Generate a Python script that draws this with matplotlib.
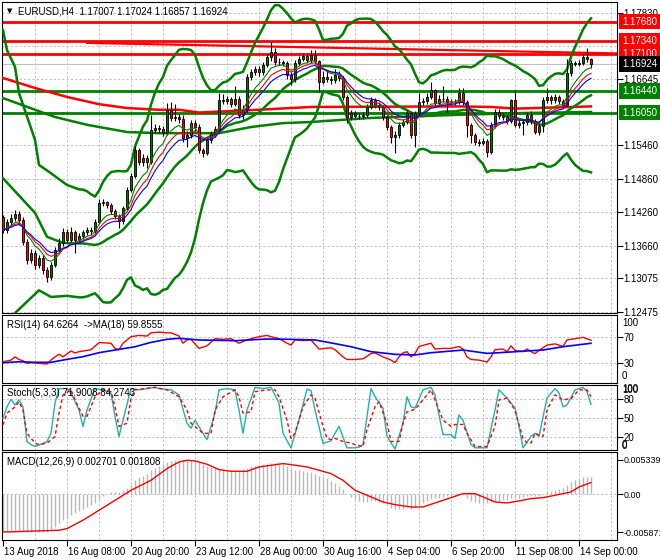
import matplotlib
matplotlib.use("Agg")
import matplotlib.pyplot as plt
import matplotlib.transforms as mtransforms
import pandas as pd

W, H = 660, 560

plt.rcParams['font.family'] = ['Liberation Sans', 'DejaVu Sans']
plt.rcParams['font.size'] = 7

# ---------------- texts
symbol_title = "EURUSD,H4  1.17007 1.17024 1.16857 1.16924"
rsi_title = "RSI(14) 64.6264  ->MA(18) 59.8555"
stoch_title = "Stoch(5,3,3) 71.9008 84.2743"
macd_title = "MACD(12,26,9) 0.002701 0.001808"

date_labels = ["13 Aug 2018", "16 Aug 08:00", "20 Aug 20:00", "23 Aug 12:00",
               "28 Aug 00:00", "30 Aug 16:00", "4 Sep 04:00", "6 Sep 20:00",
               "11 Sep 08:00", "14 Sep 00:00"]
date_label_bars = [0, 16, 32, 48, 64, 80, 96, 112, 128, 144]

# ---------------- H4 candles (open of a bar = close of the bar before)
first_open = 1.1417
closes = [
    1.1394, 1.1409, 1.1416, 1.1423, 1.1412, 1.1373, 1.1340, 1.1353, 1.1331, 1.1344,
    1.1322, 1.1310, 1.1331, 1.1358, 1.1371, 1.1391, 1.1376, 1.1391, 1.1376, 1.1383,
    1.1391, 1.1394, 1.1392, 1.1409, 1.1443, 1.1444, 1.1439, 1.1428, 1.1419, 1.1410,
    1.1434, 1.1466, 1.1491, 1.1538, 1.1516, 1.1523, 1.1516, 1.1574, 1.1577, 1.1575,
    1.1568, 1.1610, 1.1595, 1.1597, 1.1593, 1.1559, 1.1565, 1.1586, 1.1579, 1.1538,
    1.1532, 1.1556, 1.1566, 1.1575, 1.1627, 1.1626, 1.1629, 1.1620, 1.1629, 1.1601,
    1.1610, 1.1669, 1.1678, 1.1683, 1.1678, 1.1690, 1.1705, 1.1714, 1.1696, 1.1696,
    1.1694, 1.1672, 1.1665, 1.1694, 1.1701, 1.1706, 1.1699, 1.1708, 1.1697, 1.1660,
    1.1669, 1.1665, 1.1663, 1.1672, 1.1667, 1.1633, 1.1597, 1.1604, 1.1599, 1.1599,
    1.1601, 1.1615, 1.1627, 1.1619, 1.1615, 1.1597, 1.1579, 1.1561, 1.1565, 1.1583,
    1.1588, 1.1604, 1.1565, 1.1604, 1.1624, 1.1626, 1.1633, 1.1645, 1.1622, 1.1629,
    1.1629, 1.1624, 1.1624, 1.1624, 1.1640, 1.1624, 1.1583, 1.1565, 1.1552, 1.1550,
    1.1554, 1.1534, 1.1583, 1.1606, 1.1599, 1.1597, 1.1590, 1.1627, 1.1583, 1.1586,
    1.1588, 1.1601, 1.1590, 1.1570, 1.1581, 1.1627, 1.1633, 1.1627, 1.1633, 1.1626,
    1.1619, 1.1676, 1.1694, 1.1692, 1.1694, 1.1705, 1.17007, 1.16924]
highs = [
    1.1421, 1.1414, 1.1422, 1.1430, 1.1428, 1.1418, 1.1378, 1.1360, 1.1358, 1.1350,
    1.1349, 1.1328, 1.1336, 1.1364, 1.1380, 1.1398, 1.1396, 1.1400, 1.1394, 1.1388,
    1.1395, 1.1399, 1.1400, 1.1414, 1.1450, 1.1449, 1.1447, 1.1442, 1.1431, 1.1422,
    1.1438, 1.1471, 1.1497, 1.1545, 1.1541, 1.1530, 1.1529, 1.1601, 1.1584, 1.1583,
    1.1580, 1.1622, 1.1624, 1.1620, 1.1603, 1.1600, 1.1572, 1.1592, 1.1592, 1.1584,
    1.1542, 1.1561, 1.1571, 1.1581, 1.1640, 1.1639, 1.1634, 1.1633, 1.1653, 1.1634,
    1.1618, 1.1674, 1.1684, 1.1689, 1.1688, 1.1696, 1.1712, 1.1732, 1.1720, 1.1702,
    1.1700, 1.1698, 1.1677, 1.1699, 1.1707, 1.1712, 1.1711, 1.1717, 1.1717, 1.1700,
    1.1680, 1.1680, 1.1671, 1.1683, 1.1680, 1.1670, 1.1636, 1.1609, 1.1607, 1.1604,
    1.1606, 1.1620, 1.1632, 1.1631, 1.1624, 1.1618, 1.1601, 1.1583, 1.1571, 1.1588,
    1.1593, 1.1610, 1.1608, 1.1608, 1.1640, 1.1631, 1.1640, 1.1660, 1.1648, 1.1636,
    1.1653, 1.1634, 1.1630, 1.1629, 1.1649, 1.1649, 1.1628, 1.1587, 1.1569, 1.1557,
    1.1559, 1.1558, 1.1588, 1.1612, 1.1611, 1.1604, 1.1601, 1.1630, 1.1645, 1.1592,
    1.1593, 1.1606, 1.1607, 1.1594, 1.1586, 1.1632, 1.1649, 1.1637, 1.1638, 1.1637,
    1.1630, 1.1701, 1.1700, 1.1698, 1.1699, 1.1710, 1.1721, 1.17024]
lows = [
    1.1388, 1.1389, 1.1404, 1.1411, 1.1405, 1.1368, 1.1333, 1.1335, 1.1325, 1.1326,
    1.1315, 1.1301, 1.1305, 1.1327, 1.1352, 1.1366, 1.1370, 1.1372, 1.1352, 1.1371,
    1.1378, 1.1386, 1.1385, 1.1388, 1.1405, 1.1437, 1.1434, 1.1423, 1.1414, 1.1398,
    1.1405, 1.1430, 1.1462, 1.1487, 1.1510, 1.1509, 1.1505, 1.1512, 1.1568, 1.1569,
    1.1562, 1.1565, 1.1590, 1.1590, 1.1587, 1.1552, 1.1543, 1.1560, 1.1572, 1.1533,
    1.1525, 1.1528, 1.1550, 1.1561, 1.1572, 1.1620, 1.1620, 1.1615, 1.1616, 1.1596,
    1.1594, 1.1606, 1.1664, 1.1672, 1.1671, 1.1673, 1.1686, 1.1698, 1.1690, 1.1690,
    1.1688, 1.1666, 1.1654, 1.1660, 1.1690, 1.1697, 1.1694, 1.1694, 1.1692, 1.1642,
    1.1656, 1.1660, 1.1657, 1.1658, 1.1662, 1.1628, 1.1586, 1.1592, 1.1595, 1.1594,
    1.1594, 1.1597, 1.1612, 1.1614, 1.1610, 1.1592, 1.1573, 1.1550, 1.1532, 1.1560,
    1.1579, 1.1584, 1.1560, 1.1543, 1.1600, 1.1619, 1.1621, 1.1629, 1.1617, 1.1618,
    1.1624, 1.1604, 1.1619, 1.1618, 1.1620, 1.1619, 1.1561, 1.1550, 1.1547, 1.1545,
    1.1546, 1.1525, 1.1530, 1.1578, 1.1594, 1.1592, 1.1585, 1.1586, 1.1579, 1.1578,
    1.1565, 1.1583, 1.1585, 1.1566, 1.1565, 1.1570, 1.1622, 1.1621, 1.1622, 1.1620,
    1.1614, 1.1615, 1.1670, 1.1688, 1.1688, 1.1690, 1.1696, 1.16857]

# ---------------- horizontal / trend levels
red_levels = [1.1768, 1.1734, 1.1710]
green_levels = [1.1644, 1.1605]
bid_price = 1.16924
red_slope_bars = [21, 154]
red_slope_prices = [1.1730, 1.1711]

# Bollinger(20,3) before its window is full
bb_upper_early_bars = [0, 1, 3, 4, 6, 8, 9, 12, 16]
bb_upper_early = [1.1753, 1.1717, 1.1687, 1.1640, 1.1598, 1.1556, 1.1511, 1.1496, 1.1475]
bb_mid_early_bars = [0, 8, 11, 15]
bb_mid_early = [1.1487, 1.1425, 1.1382, 1.1371]
bb_lower_early_bars = [0, 3, 9, 12, 16]
bb_lower_early = [1.1221, 1.1245, 1.1286, 1.1274, 1.1276]

# long moving averages
slow_red_bars = [0, 8, 16, 24, 31, 39, 44, 49, 64, 77, 114, 122, 128, 147]
slow_red = [1.1667, 1.1649, 1.1633, 1.1620, 1.1613, 1.1610, 1.1610, 1.1605,
            1.1610, 1.1615, 1.1616, 1.1615, 1.1612, 1.1616]
slow_green_bars = [0, 8, 13, 21, 31, 39, 54, 62, 70, 77, 91, 114, 129, 147]
slow_green = [1.1631, 1.1610, 1.1597, 1.1583, 1.1570, 1.1568, 1.1568, 1.1579,
              1.1586, 1.1588, 1.1595, 1.1601, 1.1604, 1.1606]

# ---------------- RSI(14) and its MA(18)
rsi_bars = [0, 2, 3, 4, 5, 6, 7, 9, 11, 12, 13, 14, 15, 17, 18, 19, 21, 22, 24, 27,
            28, 29, 30, 32, 34, 36, 37, 39, 41, 42, 44, 45, 46, 47, 49, 51, 53, 55, 57, 59,
            61, 62, 64, 66, 67, 69, 71, 72, 73, 75, 77, 79, 82, 83, 85, 86, 88, 90, 92, 93,
            95, 97, 98, 99, 100, 101, 102, 103, 104, 107, 108, 110, 112, 114, 115, 116, 117,
            119, 121, 122, 123, 125, 126, 127, 128, 130, 131, 132, 133, 134, 136, 138, 140,
            141, 143, 145, 147]
rsi_vals = [31.5, 34, 39, 35, 33, 29, 30, 29, 28, 34, 39, 43, 39, 48, 45, 47, 49, 50, 61, 60,
            52, 50, 60, 70, 72, 71, 76, 77, 76, 76, 71, 60, 65, 66, 52, 56, 67, 66, 67, 60,
            65, 67, 70, 72, 70, 67, 60, 57, 65, 64, 65, 51, 53, 50, 39, 35, 35, 36, 44, 45,
            39, 34, 30, 39, 45, 47, 39, 44, 55, 60, 51, 52, 52, 55, 51, 39, 35,
            34, 31, 39, 50, 51, 47, 56, 49, 47, 51, 47, 44, 49, 57, 59, 55,
            65, 67, 69, 64.6]
rsi_ma_bars = [0, 4, 8, 12, 16, 20, 24, 28, 33, 37, 41, 44, 49, 58, 66, 72, 78, 82,
               87, 92, 98, 103, 107, 115, 121, 123, 132, 135, 140, 147]
rsi_ma_vals = [30.0, 31.5, 30.6, 30.6, 35.2, 39.3, 45.4, 49.5, 54.6, 61.3, 66, 67.5, 65,
               63.9, 66.5, 66, 65, 60.5, 54.6, 47, 42.9, 41.9, 45.4, 49.5, 44.4, 45,
               48.5, 49.5, 54.6, 59.9]

# ---------------- Stochastic(5,3,3)
stoch_bars = [0, 1, 2, 3, 4, 5, 6, 7, 8, 10, 11, 12, 13, 14, 16, 17, 19, 20, 21, 23,
              25, 27, 28, 29, 30, 32, 34, 38, 39, 42, 44, 46, 47, 48, 50, 51, 53, 54, 56, 58,
              59, 60, 61, 63, 65, 67, 69, 70, 72, 74, 76, 77, 78, 80, 82, 83, 84, 86, 88, 89,
              90, 92, 93, 95, 96, 98, 100, 101, 102, 103, 105, 107, 108, 110, 112, 113, 114,
              115, 117, 118, 121, 123, 124, 126, 128, 129, 130, 132, 133, 134, 136, 138, 139,
              140, 141, 143, 145, 146, 147]
stoch_main = [50, 68, 80, 71, 79, 68, 13, 8, 5, 10, 13, 26, 74, 97, 97, 90, 63, 37, 63, 97,
              95, 90, 53, 21, 47, 97, 95, 99, 97, 95, 87, 42, 34, 47, 26, 16, 58, 95, 97, 95,
              63, 26, 63, 99, 97, 99, 74, 26, 3, 47, 96, 94, 63, 10, 14, 26, 37, 3, 3, 4,
              8, 97, 84, 66, 21, 1, 42, 84, 68, 66, 95, 99, 87, 24, 24, 18, 55,
              47, 8, 3, 3, 63, 95, 82, 66, 37, 3, 21, 26, 21, 82, 97, 90,
              68, 71, 95, 99, 92, 71.9]
stoch_sig_bars = [0, 1, 3, 4, 5, 6, 8, 9, 11, 13, 14, 15, 17, 18, 20, 21, 23, 25, 27, 28,
                  29, 31, 32, 33, 38, 41, 44, 46, 47, 48, 50, 52, 53, 55, 58, 59, 60, 62, 63, 66,
                  68, 69, 71, 72, 73, 75, 77, 78, 80, 81, 82, 83, 85, 87, 88, 90, 91, 93, 94, 96,
                  97, 99, 100, 101, 103, 105, 107, 108, 110, 112, 113, 115, 116, 118, 121, 123,
                  124, 126, 128, 129, 130, 131, 132, 133, 135, 136, 138, 140, 142, 144, 146, 147]
stoch_signal = [39.5, 58, 68, 76, 63, 26, 10.5, 8, 10.5, 21, 58, 87, 95, 79, 53, 53, 84, 95, 92, 68,
                37, 42, 82, 95, 99, 95, 84, 63, 42, 37, 26, 26, 63, 84, 95, 84, 58, 60, 92, 95,
                95, 84, 47, 18, 26, 68, 87, 82, 37, 18, 16, 18, 13, 10.5, 8, 5, 32, 68, 76, 42,
                13, 13, 42, 60, 64, 79, 95, 79, 47, 37, 40, 40, 26, 5, 5, 37,
                79, 82, 63, 40, 18, 11, 10.5, 26, 21, 63, 87, 79, 81, 95, 95, 84.3]

# ---------------- MACD(12,26,9): main per bar, signal read at knots
macd_main = [
    -0.0056, -0.0057, -0.0057, -0.0056, -0.0056, -0.0057, -0.0058, -0.00587, -0.00587, -0.0058,
    -0.0058, -0.0058, -0.0055, -0.0050, -0.0045, -0.0040, -0.0036, -0.0032, -0.0029, -0.0026,
    -0.0023, -0.0020, -0.0017, -0.0014, -0.0008, -0.0003, 0.0001, 0.0003, 0.0004, 0.0004,
    0.0006, 0.0010, 0.0015, 0.0022, 0.0026, 0.0029, 0.0031, 0.0037, 0.0041, 0.0044,
    0.0046, 0.0050, 0.0052, 0.0053, 0.00534, 0.0053, 0.0053, 0.0053, 0.0052, 0.0050,
    0.0047, 0.0044, 0.0042, 0.0040, 0.0039, 0.0039, 0.0038, 0.0038, 0.0038, 0.0037,
    0.0039, 0.0041, 0.0043, 0.0044, 0.0045, 0.0046, 0.0047, 0.0048, 0.0048, 0.0047,
    0.0046, 0.0043, 0.0040, 0.0038, 0.0037, 0.0036, 0.0035, 0.0034, 0.0032, 0.0029,
    0.0027, 0.0025, 0.0020, 0.0017, 0.0013, 0.0008, 0.0001, -0.0004, -0.0007, -0.0010,
    -0.0012, -0.0012, -0.0011, -0.0011, -0.0012, -0.0014, -0.0017, -0.0021, -0.0023, -0.0023,
    -0.0022, -0.0020, -0.0022, -0.0020, -0.0017, -0.0014, -0.0011, -0.0008, -0.0006, -0.0005,
    -0.0004, -0.0003, -0.0002, -0.0001, 0.0000, -0.0001, -0.0006, -0.0010, -0.0012, -0.0013,
    -0.0013, -0.0014, -0.0012, -0.0011, -0.0010, -0.0009, -0.0009, -0.0005, -0.0005, -0.0005,
    -0.0004, -0.0003, -0.0003, -0.0003, -0.0002, 0.0000, 0.0003, 0.0005, 0.0006, 0.0008,
    0.0009, 0.0014, 0.0019, 0.0022, 0.0024, 0.0026, 0.0027, 0.0027]
macd_sig_bars = [0, 2, 8, 14, 16, 20, 24, 28, 32, 37, 41, 44, 46, 48, 51, 54, 57, 61, 64, 67,
                 70, 72, 76, 79, 82, 85, 88, 92, 95, 98, 102, 105, 108, 112, 115, 118, 120,
                 123, 126, 129, 132, 135, 138, 142, 144, 147]
macd_signal = [-0.0058, -0.0058, -0.00567, -0.00556, -0.0053, -0.0040, -0.00247, -0.00093,
               0.00062, 0.00216, 0.00397, 0.00499, 0.00525, 0.00515, 0.00464, 0.00381,
               0.00355, 0.00355, 0.00422, 0.00448, 0.00474, 0.00458, 0.00422, 0.00371,
               0.00319, 0.00216, 0.00062, -0.00041, -0.00119, -0.0016, -0.00196, -0.00196,
               -0.00134, -0.00052, 0.0001, 0.0001, -0.00041, -0.00119, -0.00134, -0.00103,
               -0.00067, -0.00052, -0.00015, 0.00036, 0.00113, 0.00181]

# ---------------- axis texts
price_ticks = [1.17830, 1.16645, 1.15460, 1.14860, 1.14260, 1.13660, 1.13075, 1.12475]
price_grid = [1.17830, 1.17237, 1.16645, 1.16052, 1.15460, 1.14860, 1.14260,
              1.13660, 1.13075, 1.12475]
macd_ticks = [0.005339, 0.0, -0.005871]
macd_tick_labels = ["0.005339", "0.00", "-0.005871"]

GRID = '#C0C0C0'
GREEN = '#008000'
RED = '#FF0000'
XLIM = (-0.25, 153.5)

fig = plt.figure(figsize=(W / 100, H / 100), dpi=100)


def add_panel(top, bottom, left=2, right=617):
    return fig.add_axes([left / W, 1 - bottom / H, (right - left) / W, (bottom - top) / H])


def style_panel(ax, ylim, labelsize=7):
    ax.set_xlim(*XLIM)
    ax.set_ylim(*ylim)
    for s in ax.spines.values():
        s.set_linewidth(0.8)
        s.set_color('black')
    ax.tick_params(axis='y', left=False, right=True, labelleft=False, labelright=True,
                   length=4, width=0.8, pad=0.5, labelsize=labelsize, direction='out')
    ax.tick_params(axis='x', bottom=False, labelbottom=False)
    for b in range(8, 154, 8):
        ax.axvline(b, color=GRID, lw=0.7, ls=(0, (2.2, 2.2)), zorder=0.5)


def hgrid(ax, values):
    for v in values:
        ax.axhline(v, color=GRID, lw=0.7, ls=(0, (2.2, 2.2)), zorder=0.5)


def right_text(ax, y, text, dy=0):
    tr = mtransforms.blended_transform_factory(ax.transAxes, ax.transData)
    tr = mtransforms.offset_copy(tr, fig=fig, x=5, y=dy, units='dots')
    ax.text(1.0, y, text, transform=tr, ha='left', va='center', fontsize=7, clip_on=False)


def price_tag(ax, y, text, bg):
    tr = mtransforms.blended_transform_factory(ax.transAxes, ax.transData)
    tr = mtransforms.offset_copy(tr, fig=fig, x=5, units='dots')
    ax.text(1.0, y, text, transform=tr, ha='left', va='center', fontsize=7, color='white',
            clip_on=False, zorder=10,
            bbox=dict(boxstyle='square,pad=0.28', fc=bg, ec='none'))


n = len(closes)
bars = list(range(n))
opens = [first_open] + closes[:-1]
close_s = pd.Series(closes)

# ================= main price panel
ax = add_panel(2, 313)
style_panel(ax, (1.12452, 1.18034))
ax.set_yticks(price_ticks)
ax.set_yticklabels([f"{p:.5f}" for p in price_ticks])
hgrid(ax, price_grid)

ax.axhline(bid_price, color='#C0C0C0', lw=0.8, zorder=1)
for lv in red_levels:
    ax.axhline(lv, color=RED, lw=2.0, zorder=2)
for lv in green_levels:
    ax.axhline(lv, color=GREEN, lw=2.0, zorder=2)
ax.plot(red_slope_bars, red_slope_prices, color=RED, lw=1.6, zorder=2)

# slow moving averages
ax.plot(slow_red_bars, slow_red, color=RED, lw=1.8, zorder=3)
ax.plot(slow_green_bars, slow_green, color=GREEN, lw=1.8, zorder=3)

# Bollinger bands (20, 3)
mid = close_s.rolling(20).mean()
sd = close_s.rolling(20).std(ddof=0)
upper = mid + 3 * sd
lower = mid - 3 * sd
full = list(range(19, n))
ax.plot(bb_upper_early_bars + full, bb_upper_early + list(upper[19:]), color=GREEN, lw=1.8, zorder=3)
ax.plot(bb_mid_early_bars + full, bb_mid_early + list(mid[19:]), color=GREEN, lw=1.8, zorder=3)
ax.plot(bb_lower_early_bars + full, bb_lower_early + list(lower[19:]), color=GREEN, lw=1.8, zorder=3)

# candles
body_low = [min(o, c) for o, c in zip(opens, closes)]
body_h = [max(abs(c - o), 0.00003) for o, c in zip(opens, closes)]
body_col = ['#007000' if c >= o else RED for o, c in zip(opens, closes)]
ax.vlines(bars, lows, highs, color='black', lw=0.8, zorder=4)
ax.bar(bars, body_h, bottom=body_low, width=0.72, color=body_col,
       edgecolor='black', linewidth=0.6, zorder=4.5)

# fast EMAs
for span, col in [(7, GREEN), (10, RED), (13, '#0000FF')]:
    ax.plot(bars, close_s.ewm(span=span, adjust=False).mean(), color=col, lw=0.8, zorder=5)

price_tag(ax, 1.17680, "1.17680", RED)
price_tag(ax, 1.17340, "1.17340", RED)
price_tag(ax, 1.17100, "1.17100", RED)
price_tag(ax, bid_price, "1.16924", 'black')
price_tag(ax, 1.16440, "1.16440", GREEN)
price_tag(ax, 1.16050, "1.16050", GREEN)

fig.text(7 / W, 1 - 11 / H, "\u25BC", fontsize=5, family='DejaVu Sans', va='center')
fig.text(18 / W, 1 - 11 / H, symbol_title, fontsize=7, va='center')

# ================= RSI panel
ax_rsi = add_panel(315, 383)
style_panel(ax_rsi, (-1.2, 103.4))
ax_rsi.set_yticks([70, 30])
ax_rsi.set_yticklabels(["70", "30"])
hgrid(ax_rsi, [70, 30])
right_text(ax_rsi, 91.5, "100")
right_text(ax_rsi, 9.5, "0")
ax_rsi.plot(rsi_bars, rsi_vals, color=RED, lw=1.0, zorder=3)
ax_rsi.plot(rsi_ma_bars, rsi_ma_vals, color='#0000FF', lw=1.2, zorder=3)
fig.text(7 / W, 1 - 325 / H, rsi_title, fontsize=7, va='center')

# ================= Stochastic panel
ax_st = add_panel(385, 450)
style_panel(ax_st, (-0.5, 102.7))
ax_st.set_yticks([80, 50, 20])
ax_st.set_yticklabels(["80", "50", "20"])
hgrid(ax_st, [80, 50, 20])
right_text(ax_st, 97, "100")
right_text(ax_st, 94, "100")
right_text(ax_st, 7.5, "0")
right_text(ax_st, 5.5, "0")
ax_st.plot(stoch_bars, stoch_main, color='#20B2AA', lw=1.0, zorder=3)
ax_st.plot(stoch_sig_bars, stoch_signal, color=RED, lw=1.0, ls=(0, (2.5, 2)), zorder=3)
fig.text(7 / W, 1 - 393 / H, stoch_title, fontsize=7, va='center')

# ================= MACD panel
ax_m = add_panel(452, 540)
style_panel(ax_m, (-0.00706, 0.00653), labelsize=6.4)
ax_m.set_yticks(macd_ticks)
ax_m.set_yticklabels(macd_tick_labels)
hgrid(ax_m, [0.0])
ax_m.vlines(bars, 0, macd_main, color='#B8B8B8', lw=1.0, zorder=2)
ax_m.plot(macd_sig_bars, macd_signal, color=RED, lw=1.0, zorder=3)
fig.text(7 / W, 1 - 462 / H, macd_title, fontsize=7, va='center')

ax_m.tick_params(axis='x', bottom=True, labelbottom=True, length=4, width=0.8,
                 pad=1, labelsize=7, direction='out')
ax_m.set_xticks(date_label_bars)
ax_m.set_xticklabels(date_labels)
shift = mtransforms.ScaledTranslation(1 / 100, 0, fig.dpi_scale_trans)
for lbl in ax_m.get_xticklabels():
    lbl.set_horizontalalignment('left')
    lbl.set_transform(lbl.get_transform() + shift)

fig.savefig("out.png", dpi=100)
